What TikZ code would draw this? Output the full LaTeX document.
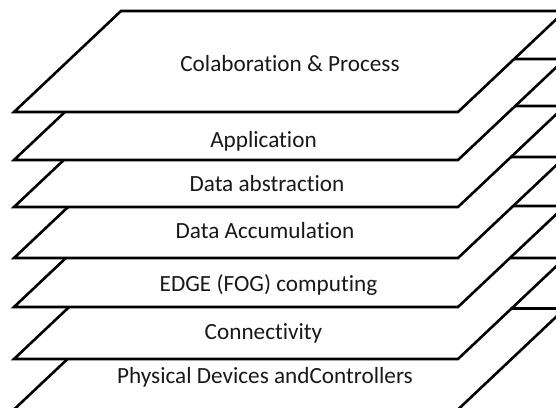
\documentclass[tikz,border=0pt]{standalone}
\usepackage{fontspec}
\setmainfont{Carlito}[Ligatures=CommonOff]
\begin{document}
\begin{tikzpicture}[x=1pt,y=-1pt,
  layerbox/.style={draw=black, fill=white, line width=2.6pt},
  lbl/.style={anchor=base, inner sep=0pt, text=black!90, font=\fontsize{23.2}{26}\selectfont}]
\useasboundingbox (0,0) rectangle (556,407);
\clip (0,0) rectangle (556,407);
% stacked slanted planes, drawn from the lowest up so upper ones cover the lower
\foreach \b in {409.5,359,307,258,207,160,112}{
  \draw[layerbox] (14,\b) -- (458,\b) -- (565,{\b-101}) -- (121,{\b-101}) -- cycle;
}
\node[lbl] (collab) at (290,71)  {Colaboration \& Process};
\node[lbl] (app)    at (263.5,147) {Application};
\node[lbl] (abstr)  at (267,191) {Data abstraction};
\node[lbl] (accum)  at (265,238) {Data Accumulation};
\node[lbl] (edge)   at (268.5,291) {EDGE (FOG) computing};
\node[lbl] (conn)   at (263.5,339) {Connectivity};
\node[lbl] (phys)   at (265,383) {Physical Devices andControllers};
\end{tikzpicture}
\end{document}
